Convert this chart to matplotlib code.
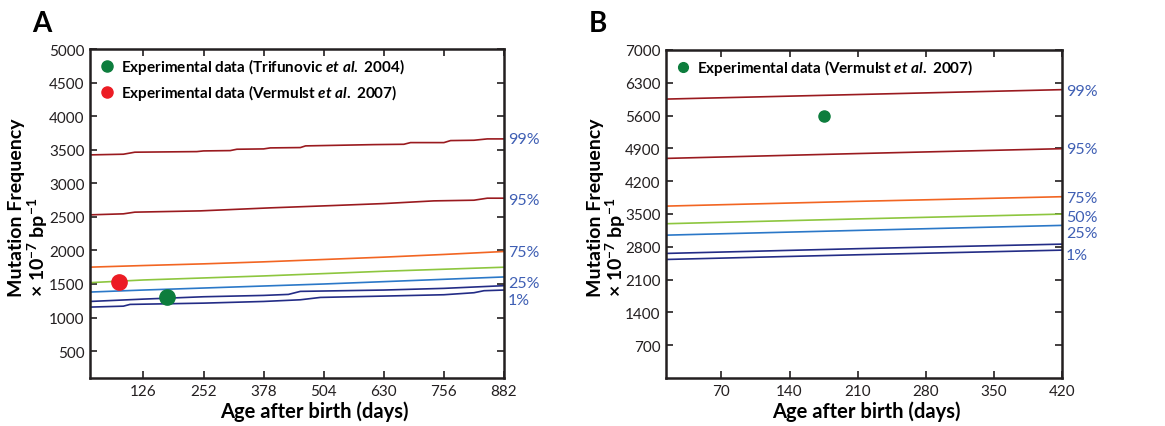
import matplotlib
matplotlib.use('Agg')
import matplotlib.pyplot as plt

plt.rcParams['font.family'] = ['Lato', 'DejaVu Sans']
plt.rcParams['mathtext.fontset'] = 'custom'
plt.rcParams['mathtext.rm'] = 'Lato:bold'
plt.rcParams['mathtext.bf'] = 'Lato:bold'
plt.rcParams['mathtext.it'] = 'Lato:italic:bold'

# ---- panel A data (days, mutation frequency x1e-7 per bp) ----
a_x99 = [14, 84, 108, 238, 252, 308, 322, 378, 392, 455, 466, 609, 672, 686, 756, 770, 819, 847, 882]
a_y99 = [3423, 3433, 3463, 3472, 3482, 3487, 3507, 3512, 3527, 3532, 3557, 3576, 3581, 3606, 3606, 3636, 3641, 3661, 3661]
a_x95 = [14, 84, 108, 245, 392, 525, 630, 735, 819, 847, 882]
a_y95 = [2530, 2545, 2570, 2589, 2634, 2669, 2698, 2738, 2748, 2778, 2778]
a_x_smooth = [14, 126, 252, 378, 504, 630, 756, 882]
a_y75 = [1751, 1775, 1800, 1830, 1865, 1900, 1940, 1984]
a_y50 = [1520, 1560, 1590, 1620, 1655, 1690, 1720, 1750]
a_y25 = [1380, 1410, 1440, 1470, 1500, 1535, 1570, 1605]
a_x_nv1 = [14, 126, 252, 378, 430, 455, 630, 756, 882]
a_y_nv1 = [1240, 1275, 1310, 1330, 1345, 1390, 1410, 1435, 1475]
a_x_nv2 = [14, 84, 98, 252, 378, 455, 497, 630, 756, 819, 840, 882]
a_y_nv2 = [1156, 1170, 1196, 1215, 1240, 1265, 1300, 1320, 1340, 1370, 1400, 1410]
a_exp_trif = (175, 1305)
a_exp_verm = (75, 1537)
a_pct_labels = ['99%', '95%', '75%', '25%', '1%']
a_pct_y = [3661, 2750, 1984, 1514, 1255]

# ---- panel B data ----
b_x = [14, 210, 420]
b_y99 = [5953, 6050, 6154]
b_y95 = [4687, 4790, 4894]
b_y75 = [3669, 3770, 3869]
b_y50 = [3293, 3395, 3498]
b_y25 = [3049, 3150, 3257]
b_y_nv1 = [2659, 2760, 2857]
b_y_nv2 = [2530, 2630, 2729]
b_exp_verm = (175, 5584)
b_pct_labels = ['99%', '95%', '75%', '50%', '25%', '1%']
b_pct_y = [6124, 4886, 3848, 3442, 3100, 2616]

c_red = '#9a1a1f'
c_orange = '#f26522'
c_green = '#8dc63f'
c_blue = '#2b78c8'
c_navy = '#232c86'
c_lab = '#3f5fb4'
c_mgreen = '#0d7d3d'
c_mred = '#ec1c24'

W, H = 1165, 427
fig = plt.figure(figsize=(W / 100, H / 100), dpi=100)

axA = fig.add_axes([90 / W, 1 - 379 / H, (504 - 90) / W, (379 - 50) / H])
axB = fig.add_axes([666 / W, 1 - 379 / H, (1062 - 666) / W, (379 - 51) / H])

lw = 1.2
axA.plot(a_x99, a_y99, color=c_red, lw=lw)
axA.plot(a_x95, a_y95, color=c_red, lw=lw)
axA.plot(a_x_smooth, a_y75, color=c_orange, lw=lw)
axA.plot(a_x_smooth, a_y50, color=c_green, lw=lw)
axA.plot(a_x_smooth, a_y25, color=c_blue, lw=lw)
axA.plot(a_x_nv1, a_y_nv1, color=c_navy, lw=lw)
axA.plot(a_x_nv2, a_y_nv2, color=c_navy, lw=lw)
axA.plot(*a_exp_verm, 'o', color=c_mred, ms=11, zorder=5)
axA.plot(*a_exp_trif, 'o', color=c_mgreen, ms=11, zorder=5)

axB.plot(b_x, b_y99, color=c_red, lw=lw)
axB.plot(b_x, b_y95, color=c_red, lw=lw)
axB.plot(b_x, b_y75, color=c_orange, lw=lw)
axB.plot(b_x, b_y50, color=c_green, lw=lw)
axB.plot(b_x, b_y25, color=c_blue, lw=lw)
axB.plot(b_x, b_y_nv1, color=c_navy, lw=lw)
axB.plot(b_x, b_y_nv2, color=c_navy, lw=lw)
axB.plot(*b_exp_verm, 'o', color=c_mgreen, ms=8, zorder=5)

axA.set_xlim(14, 882)
axA.set_ylim(100, 5000)
axA.set_xticks([126, 252, 378, 504, 630, 756, 882])
axA.set_yticks(range(500, 5001, 500))
axB.set_xlim(13, 420)
axB.set_ylim(0, 7000)
axB.set_xticks([70, 140, 210, 280, 350, 420])
axB.set_yticks(range(700, 7001, 700))

for ax in (axA, axB):
    ax.tick_params(direction='in', length=5, width=1.2, top=True, right=True,
                   labelsize=11, pad=4, colors='#231f20')
    for s in ax.spines.values():
        s.set_linewidth(1.8)
        s.set_color('#231f20')
    ax.set_xlabel('Age after birth (days)', fontsize=14.5, fontweight='bold', va='center')

axA.xaxis.set_label_coords((314 - 90) / (504 - 90), -(412 - 379) / 329)
axB.xaxis.set_label_coords(0.505, -(412 - 379) / 329)

# percentile labels at right edge
for lab, yv in zip(a_pct_labels, a_pct_y):
    axA.annotate(lab, xy=(1, yv), xycoords=axA.get_yaxis_transform(), xytext=(3, 0),
                 textcoords='offset points', va='center', ha='left', color=c_lab, fontsize=11.5,
                 annotation_clip=False)
for lab, yv in zip(b_pct_labels, b_pct_y):
    axB.annotate(lab, xy=(1, yv), xycoords=axB.get_yaxis_transform(), xytext=(3, 0),
                 textcoords='offset points', va='center', ha='left', color=c_lab, fontsize=11.5,
                 annotation_clip=False)

# legends drawn by hand
def legend_item(ax, px, py, color, label, ms):
    ax.plot([px], [py], 'o', color=color, ms=ms, transform=fig.transFigure, clip_on=False)
    fig.text(px + 14 / W, py, label, fontsize=11, fontweight='bold', va='center', ha='left')

legend_item(axA, 107 / W, 1 - 67 / H, c_mgreen, r'Experimental data (Trifunovic $\mathit{et\ al.}$ 2004)', 8)
legend_item(axA, 107 / W, 1 - 93 / H, c_mred, r'Experimental data (Vermulst $\mathit{et\ al.}$ 2007)', 8)
legend_item(axB, 683 / W, 1 - 68 / H, c_mgreen, r'Experimental data (Vermulst $\mathit{et\ al.}$ 2007)', 7)

# y labels, two lines, bottom aligned
ylab2 = r'× 10$^{-7}$ bp$^{-1}$'
for x1, x2 in ((17, 38), (595, 616)):
    fig.text(x1 / W, 1 - 297 / H, 'Mutation Frequency', rotation=90, fontsize=14,
             fontweight='bold', ha='center', va='bottom')
    fig.text(x2 / W, 1 - 297 / H, ylab2, rotation=90, fontsize=14,
             fontweight='bold', ha='center', va='bottom')

fig.text(32 / W, 1 - 32 / H, 'A', fontsize=20, fontweight='bold', ha='left', va='baseline')
fig.text(589 / W, 1 - 32 / H, 'B', fontsize=20, fontweight='bold', ha='left', va='baseline')

fig.savefig('out.png', dpi=100)
